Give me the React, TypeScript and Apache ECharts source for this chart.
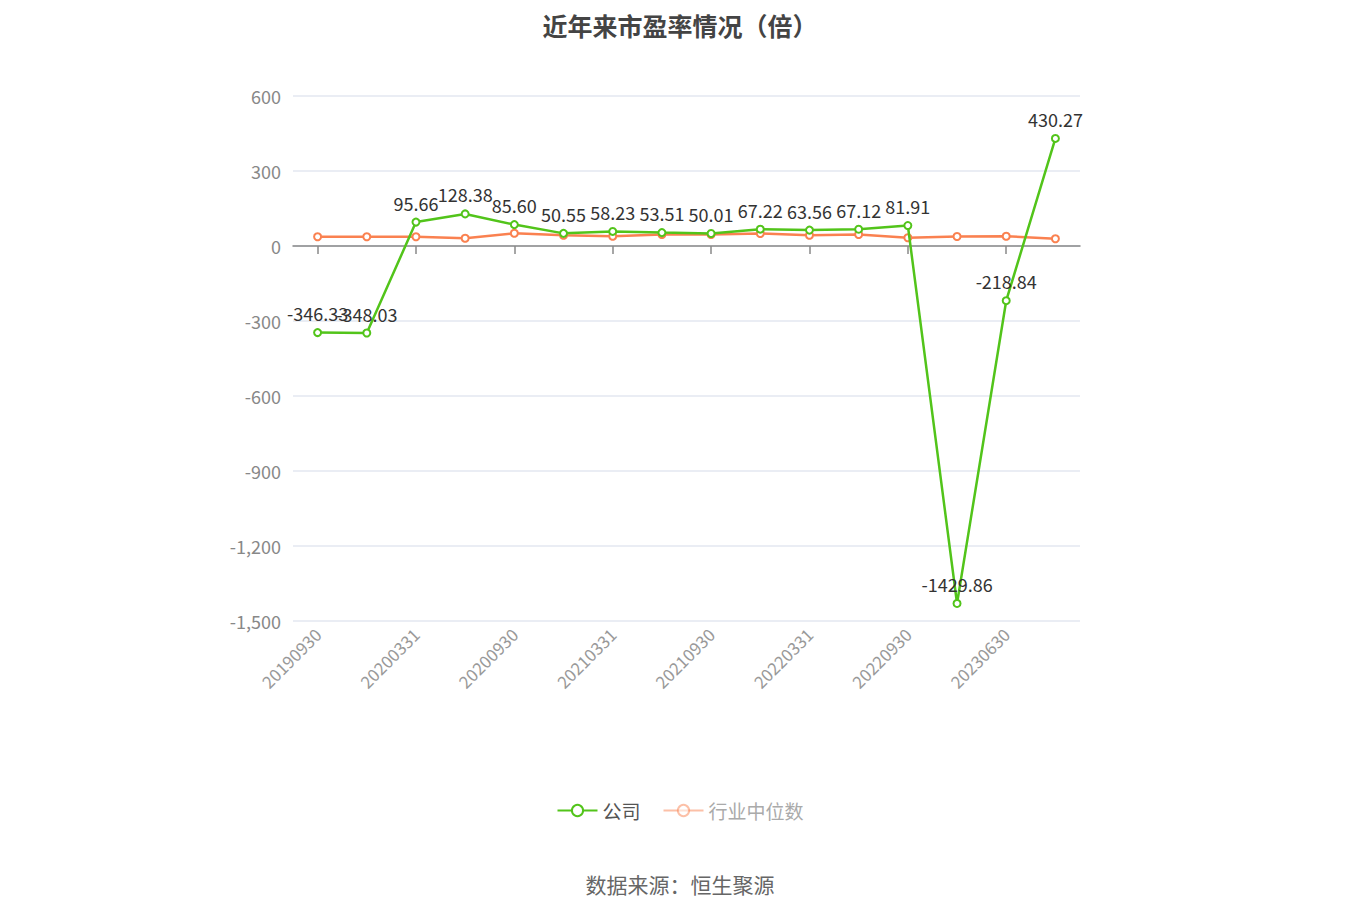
import React, { useEffect, useRef } from "react";
import * as echarts from "echarts";

// report dates (x axis)
const dates = [
  "20190930", "20191231", "20200331", "20200630", "20200930", "20201231",
  "20210331", "20210630", "20210930", "20211231", "20220331", "20220630",
  "20220930", "20221231", "20230630", "20230930",
];

// company P/E
const company = [
  -346.33, -348.03, 95.66, 128.38, 85.6, 50.55, 58.23, 53.51,
  50.01, 67.22, 63.56, 67.12, 81.91, -1429.86, -218.84, 430.27,
];

// industry median P/E
const industry = [37, 37, 37, 31, 51, 43, 39, 46, 46, 50, 43, 46, 33, 38, 39, 29];

const FONT = "'Noto Sans CJK SC', 'Noto Sans', sans-serif";

const App: React.FC = () => {
  const chartRef = useRef<HTMLDivElement>(null);

  useEffect(() => {
    if (!chartRef.current) return;
    const chart = echarts.init(chartRef.current, undefined, { renderer: "svg" });

    chart.setOption({
      animation: false,
      textStyle: { fontFamily: FONT },
      title: {
        text: "近年来市盈率情况（倍）",
        left: "center",
        top: 2,
        padding: 0,
        textStyle: {
          fontSize: 25,
          lineHeight: 30,
          fontWeight: "bold",
          color: "#444",
          fontFamily: FONT,
        },
      },
      legend: {
        bottom: 87,
        left: "center",
        itemWidth: 40,
        itemHeight: 14,
        itemGap: 22,
        textStyle: { fontSize: 19, color: "#555", fontFamily: FONT },
        data: [
          { name: "公司" },
          {
            name: "行业中位数",
            textStyle: { color: "#aaa" },
            itemStyle: { opacity: 0.5 },
            lineStyle: { opacity: 0.5 },
          },
        ],
      },
      graphic: [
        {
          type: "text",
          left: "center",
          top: 865,
          style: { text: "数据来源：恒生聚源", fontSize: 21, fill: "#666", fontFamily: FONT },
        },
      ],
      grid: { left: 285, right: 272, top: 88, bottom: 291, containLabel: false },
      xAxis: [
        {
          type: "category",
          data: dates,
          boundaryGap: true,
          position: "bottom",
          axisLine: { show: false, onZero: false },
          axisTick: { show: false },
          axisLabel: {
            interval: 1,
            rotate: 45,
            fontSize: 17,
            color: "#999",
            margin: 10,
            fontFamily: FONT,
          },
        },
        {
          type: "category",
          data: dates,
          boundaryGap: true,
          position: "top",
          axisLine: { show: true, onZero: true, lineStyle: { color: "#888", width: 1.5 } },
          axisTick: {
            show: true,
            inside: true,
            interval: 1,
            alignWithLabel: true,
            length: 8,
            lineStyle: { color: "#888", width: 1.5 },
          },
          axisLabel: { show: false },
        },
      ],
      yAxis: {
        type: "value",
        min: -1500,
        max: 600,
        interval: 300,
        axisLine: { show: false },
        axisTick: { show: false },
        axisLabel: { fontSize: 18, color: "#888", margin: 12, fontFamily: FONT },
        splitLine: { lineStyle: { color: "#e3e7f1", width: 1.5 } },
      },
      series: [
        {
          name: "公司",
          type: "line",
          xAxisIndex: 0,
          data: company,
          symbol: "emptyCircle",
          symbolSize: 7,
          lineStyle: { color: "#52c41a", width: 2.5 },
          itemStyle: { color: "#52c41a", borderWidth: 2 },
          label: {
            show: true,
            position: "top",
            distance: 6,
            fontSize: 18,
            color: "#333",
            fontFamily: FONT,
            formatter: (p: any) => Number(p.value).toFixed(2),
          },
          z: 3,
        },
        {
          name: "行业中位数",
          type: "line",
          xAxisIndex: 0,
          data: industry,
          symbol: "emptyCircle",
          symbolSize: 7,
          lineStyle: { color: "#fa8150", width: 2.5 },
          itemStyle: { color: "#fa8150", borderWidth: 2 },
          z: 2,
        },
      ],
    });

    return () => chart.dispose();
  }, []);

  return <div ref={chartRef} style={{ width: 1344, height: 904 }} />;
};

export default App;
